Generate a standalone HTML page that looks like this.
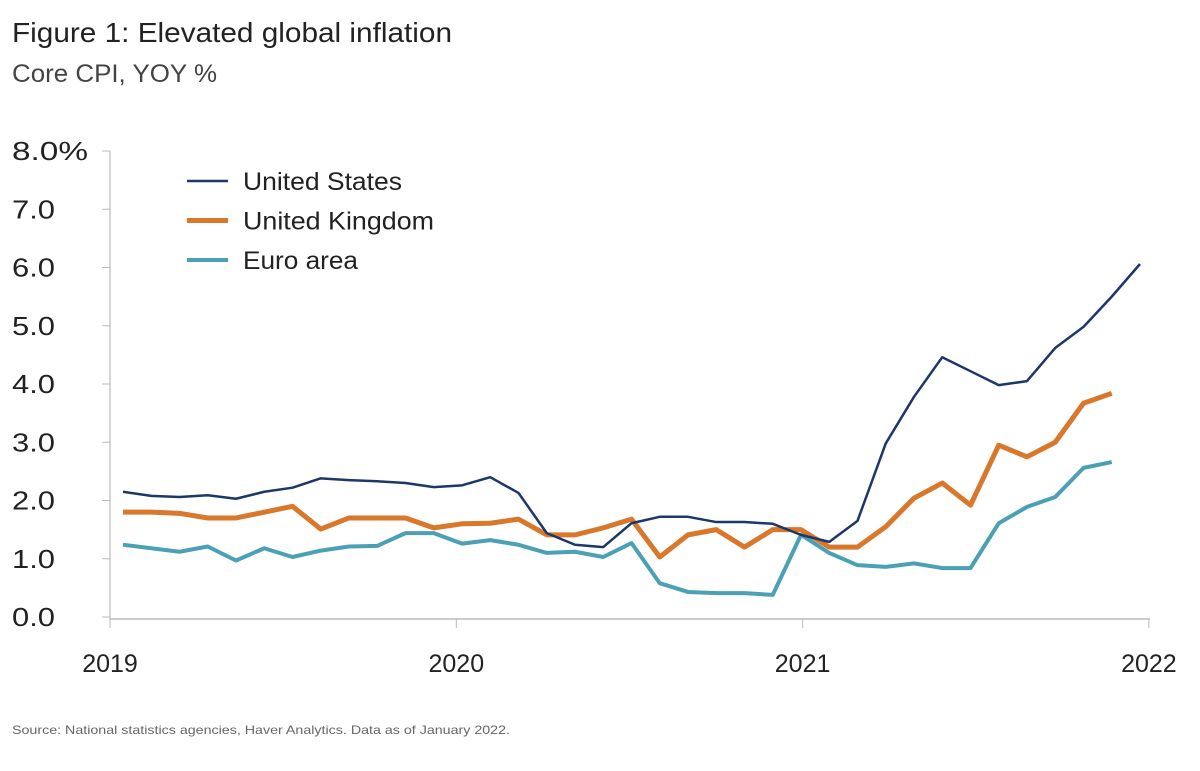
<!DOCTYPE html>
<html><head><meta charset="utf-8"><style>
body{margin:0;background:#fff;width:1200px;height:766px;overflow:hidden;font-family:"Liberation Sans",sans-serif}
</style></head><body>
<svg width="1200" height="766" id="chart" xmlns="http://www.w3.org/2000/svg" font-family="Liberation Sans, sans-serif">
<text x="12" y="42" font-size="28" fill="#222" textLength="440" lengthAdjust="spacingAndGlyphs">Figure 1: Elevated global inflation</text>
<text x="12" y="82" font-size="25" fill="#444" textLength="205" lengthAdjust="spacingAndGlyphs">Core CPI, YOY %</text>
<g id="axes"></g>
<g id="series"></g>
<g id="legend"></g>
<text x="12" y="734" font-size="12" fill="#666" textLength="498" lengthAdjust="spacingAndGlyphs">Source: National statistics agencies, Haver Analytics. Data as of January 2022.</text>
</svg>
<script>
const us=[2.15,2.08,2.06,2.09,2.03,2.15,2.22,2.38,2.35,2.33,2.30,2.23,2.26,2.40,2.13,1.44,1.24,1.20,1.61,1.72,1.72,1.63,1.63,1.60,1.41,1.29,1.65,2.98,3.78,4.46,4.22,3.98,4.05,4.62,4.98,5.5,6.06];
const uk=[1.80,1.80,1.78,1.70,1.70,1.80,1.90,1.51,1.70,1.70,1.70,1.53,1.60,1.61,1.68,1.41,1.41,1.53,1.68,1.03,1.41,1.50,1.20,1.50,1.50,1.20,1.20,1.55,2.04,2.30,1.92,2.95,2.75,3.0,3.67,3.84];
const ea=[1.24,1.18,1.12,1.21,0.97,1.18,1.03,1.14,1.21,1.22,1.44,1.44,1.26,1.32,1.24,1.10,1.12,1.03,1.27,0.58,0.43,0.41,0.41,0.38,1.41,1.10,0.89,0.86,0.92,0.84,0.84,1.61,1.89,2.06,2.56,2.66];
const yTicks=[0,1,2,3,4,5,6,7,8];
const yLabels=["0.0","1.0","2.0","3.0","4.0","5.0","6.0","7.0","8.0%"];
const years=["2019","2020","2021","2022"];
const seriesNames=["United States","United Kingdom","Euro area"];
const legendWidths=[159,191,115];
const NS="http://www.w3.org/2000/svg";
const y=v=>617-v*58.25;
const x=i=>123+i*28.25;
const yearX=k=>110+k*346.3;
function mk(t,a,p){const e=document.createElementNS(NS,t);for(const k in a)e.setAttribute(k,a[k]);p.appendChild(e);return e;}
const ax=document.getElementById('axes');
let l=mk('line',{x1:110,y1:y(8),x2:110,y2:619,stroke:'#bbb','stroke-width':1.2},ax);


l=mk('line',{x1:110,y1:619,x2:1150,y2:619,stroke:'#bbb','stroke-width':1.5},ax);


yTicks.forEach((v,i)=>{
 const t=mk('line',{x1:102,y1:y(v),x2:110,y2:y(v),stroke:'#bbb'},ax);
 
 
 const tx=mk('text',{x:12,y:y(v)+9,'font-size':26,fill:'#222',textLength:(yLabels[i].length>3?76:43),lengthAdjust:'spacingAndGlyphs'},ax);
 tx.textContent=yLabels[i];
 
 
});
years.forEach((yr,k)=>{
 const t=mk('line',{x1:yearX(k),y1:619,x2:yearX(k),y2:628,stroke:'#bbb'},ax);
 
 
 const tx=mk('text',{x:yearX(k),y:672,'font-size':25,fill:'#222','text-anchor':'middle'},ax);
 tx.textContent=yr;
 
 
});
const sg=document.getElementById('series');
const defs=[[us,'#1c3768',2.5,'us-line'],[uk,'#d9772b',5,'uk-line'],[ea,'#4aa0b4',4,'euro-area-line']];
[defs[2],defs[1],defs[0]].forEach(d=>{
 const p=mk('polyline',{points:d[0].map((v,i)=>x(i)+','+y(v)).join(' '),fill:'none',stroke:d[1],'stroke-width':d[2],'stroke-linejoin':'round'},sg);
 
 
});
const lg=document.getElementById('legend');
seriesNames.forEach((n,i)=>{
 const yy=181+i*39.5;
 const g=mk('g',{},lg);
 
 
 mk('line',{x1:187,y1:yy,x2:228,y2:yy,stroke:defs[i][1],'stroke-width':defs[i][2]},g);
 const t=mk('text',{x:243,y:yy+9,'font-size':25,fill:'#222',textLength:legendWidths[i],lengthAdjust:'spacingAndGlyphs'},g);
 t.textContent=n;
});
</script>
</body></html>
